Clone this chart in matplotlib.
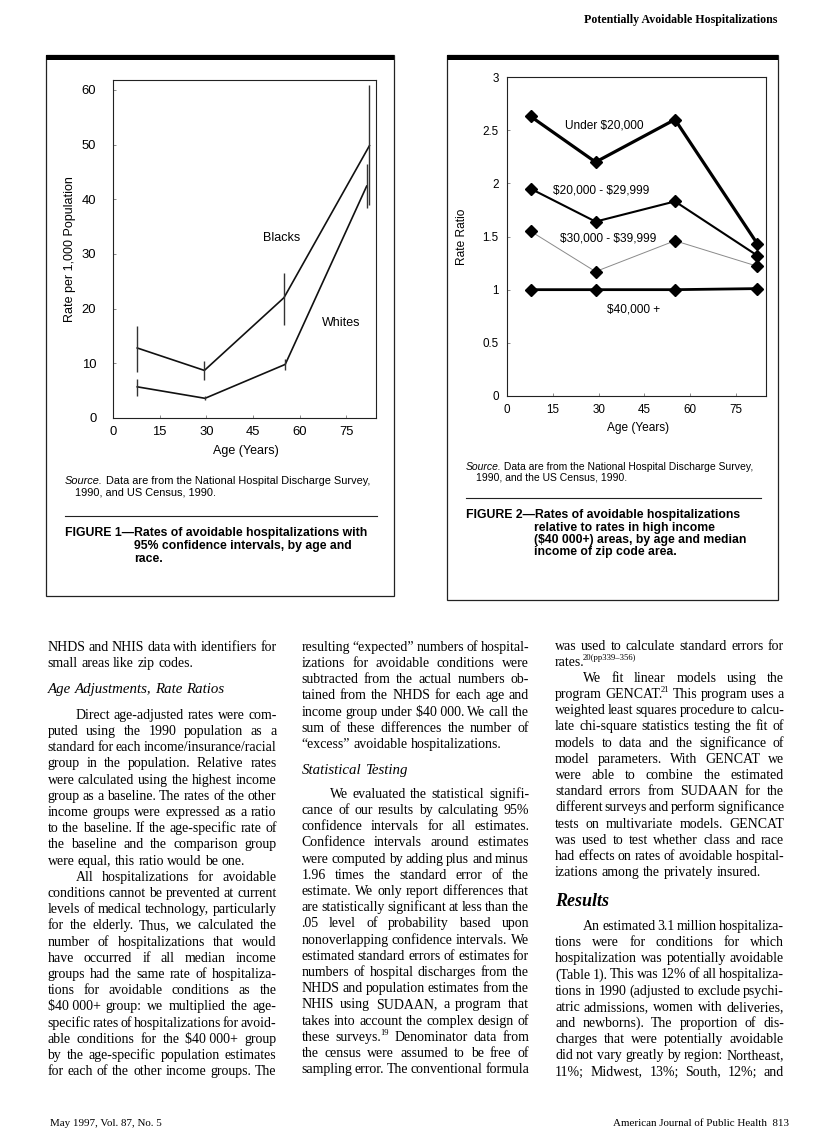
import matplotlib
matplotlib.use("Agg")
import matplotlib.pyplot as plt
from matplotlib.patches import Rectangle
from matplotlib.lines import Line2D

W, H = 816, 1141
SANS = 'Liberation Sans'
SERIF = 'Liberation Serif'

# ---- Figure 1 data: rates per 1,000 with 95% CI ----
ages_black = [7.8, 29.4, 55.0, 82.5]
rate_black = [12.8, 8.7, 22.0, 49.8]
ci_black_lo = [8.5, 6.9, 17.0, 39.0]
ci_black_hi = [16.9, 10.4, 26.6, 60.8]
ages_white = [7.8, 29.6, 55.4, 81.6]
rate_white = [5.7, 3.6, 9.8, 42.4]
ci_white_lo = [4.1, 3.3, 8.8, 38.4]
ci_white_hi = [7.2, 4.0, 10.7, 46.5]
fig1_yticks = [0, 10, 20, 30, 40, 50, 60]

# ---- Figure 2 data: rate ratios by income ----
ages_income = [7.7, 29.0, 55.0, 82.0]
under_20k = [2.63, 2.20, 2.60, 1.43]
inc_20_30k = [1.95, 1.64, 1.83, 1.32]
inc_30_40k = [1.55, 1.17, 1.46, 1.22]
over_40k = [1.00, 1.00, 1.00, 1.01]
fig2_yticks = [0, 0.5, 1, 1.5, 2, 2.5, 3]
fig2_yticklabels = ['0', '0.5', '1', '1.5', '2', '2.5', '3']
age_ticks = [0, 15, 30, 45, 60, 75]

# ---- body text (j = justified, l = last line, i = indented first line) ----
col1 = [
    (647, [("NHDS and NHIS data with identifiers for", 'j'),
           ("small areas like zip codes.", 'l')]),
    (689, [("Age Adjustments, Rate Ratios", 'h')]),
    (715, [("Direct age-adjusted rates were com-", 'ji'),
           ("puted using the 1990 population as a", 'j'),
           ("standard for each income/insurance/racial", 'j'),
           ("group in the population. Relative rates", 'j'),
           ("were calculated using the highest income", 'j'),
           ("group as a baseline. The rates of the other", 'j'),
           ("income groups were expressed as a ratio", 'j'),
           ("to the baseline. If the age-specific rate of", 'j'),
           ("the baseline and the comparison group", 'j'),
           ("were equal, this ratio would be one.", 'l'),
           ("All hospitalizations for avoidable", 'ji'),
           ("conditions cannot be prevented at current", 'j'),
           ("levels of medical technology, particularly", 'j'),
           ("for the elderly. Thus, we calculated the", 'j'),
           ("number of hospitalizations that would", 'j'),
           ("have occurred if all median income", 'j'),
           ("groups had the same rate of hospitaliza-", 'j'),
           ("tions for avoidable conditions as the", 'j'),
           ("$40\u00a0000+ group: we multiplied the age-", 'j'),
           ("specific rates of hospitalizations for avoid-", 'j'),
           ("able conditions for the $40\u00a0000+ group", 'j'),
           ("by the age-specific population estimates", 'j'),
           ("for each of the other income groups. The", 'j')]),
]
col2 = [
    (647, [("resulting \u201cexpected\u201d numbers of hospital-", 'j'),
           ("izations for avoidable conditions were", 'j'),
           ("subtracted from the actual numbers ob-", 'j'),
           ("tained from the NHDS for each age and", 'j'),
           ("income group under $40\u00a0000. We call the", 'j'),
           ("sum of these differences the number of", 'j'),
           ("\u201cexcess\u201d avoidable hospitalizations.", 'l')]),
    (770, [("Statistical Testing", 'h')]),
    (794, [("We evaluated the statistical signifi-", 'ji'),
           ("cance of our results by calculating 95%", 'j'),
           ("confidence intervals for all estimates.", 'j'),
           ("Confidence intervals around estimates", 'j'),
           ("were computed by adding plus and minus", 'j'),
           ("1.96 times the standard error of the", 'j'),
           ("estimate. We only report differences that", 'j'),
           ("are statistically significant at less than the", 'j'),
           (".05 level of probability based upon", 'j'),
           ("nonoverlapping confidence intervals. We", 'j'),
           ("estimated standard errors of estimates for", 'j'),
           ("numbers of hospital discharges from the", 'j'),
           ("NHDS and population estimates from the", 'j'),
           ("NHIS using SUDAAN, a program that", 'j'),
           ("takes into account the complex design of", 'j'),
           ("these surveys.^19 Denominator data from", 'j'),
           ("the census were assumed to be free of", 'j'),
           ("sampling error. The conventional formula", 'j')]),
]
col3 = [
    (646, [("was used to calculate standard errors for", 'j'),
           ("rates.^20(pp339\u2013356)", 'l')]),
    (678, [("We fit linear models using the", 'ji'),
           ("program GENCAT.^21 This program uses a", 'j'),
           ("weighted least squares procedure to calcu-", 'j'),
           ("late chi-square statistics testing the fit of", 'j'),
           ("models to data and the significance of", 'j'),
           ("model parameters. With GENCAT we", 'j'),
           ("were able to combine the estimated", 'j'),
           ("standard errors from SUDAAN for the", 'j'),
           ("different surveys and perform significance", 'j'),
           ("tests on multivariate models. GENCAT", 'j'),
           ("was used to test whether class and race", 'j'),
           ("had effects on rates of avoidable hospital-", 'j'),
           ("izations among the privately insured.", 'l')]),
    (901, [("Results", 'R')]),
    (926, [("An estimated 3.1 million hospitaliza-", 'ji'),
           ("tions were for conditions for which", 'j'),
           ("hospitalization was potentially avoidable", 'j'),
           ("(Table 1). This was 12% of all hospitaliza-", 'j'),
           ("tions in 1990 (adjusted to exclude psychi-", 'j'),
           ("atric admissions, women with deliveries,", 'j'),
           ("and newborns). The proportion of dis-", 'j'),
           ("charges that were potentially avoidable", 'j'),
           ("did not vary greatly by region: Northeast,", 'j'),
           ("11%; Midwest, 13%; South, 12%; and", 'j')]),
]

fig = plt.figure(figsize=(W / 100, H / 100), dpi=100)
renderer = fig.canvas.get_renderer()


def px(x, y):
    return x / W, 1 - y / H


def rect(l, t, r, b):
    return [l / W, 1 - b / H, (r - l) / W, (b - t) / H]


def width_of(s, **kw):
    t = fig.text(0, 0, s, parse_math=False, **kw)
    w = t.get_window_extent(renderer).width
    t.remove()
    return w


def hline(x0, x1, y, lw=0.8):
    fig.add_artist(Line2D([x0 / W, x1 / W], [1 - y / H] * 2, transform=fig.transFigure,
                          lw=lw, color='#222'))


def box(l, t, r, b):
    fig.add_artist(Rectangle((l / W, 1 - b / H), (r - l) / W, (b - t) / H, transform=fig.transFigure,
                             fill=False, lw=0.9, ec='#222'))
    fig.add_artist(Rectangle((l / W, 1 - (t + 5) / H), (r - l) / W, 5 / H, transform=fig.transFigure,
                             fc='black', ec='none'))


def runs(x, y, pieces, fs):
    yb = y + fs * 100 / 72 * 0.3
    for s, style in pieces:
        t = fig.text(*px(x, yb), s, fontsize=fs, family=SANS, style=style, va='baseline',
                     parse_math=False)
        x += t.get_window_extent(renderer).width


def style_axes(ax):
    for sp in ax.spines.values():
        sp.set_linewidth(0.8)
        sp.set_color('#222')
    ax.set_facecolor('none')


# ---- page boxes ----
box(46, 55, 394, 596)
box(447, 55, 778, 600)

# ---- Figure 1 ----
ax1 = fig.add_axes(rect(113, 80, 376, 418))
style_axes(ax1)
ax1.plot(ages_black, rate_black, color='#111', lw=1.2)
ax1.plot(ages_white, rate_white, color='#111', lw=1.2)
ax1.vlines(ages_black, ci_black_lo, ci_black_hi, color='#333', lw=1.0)
ax1.vlines(ages_white, ci_white_lo, ci_white_hi, color='#333', lw=1.0)
ax1.set_xlim(0, 84.6)
ax1.set_ylim(0, 61.8)
ax1.set_xticks(age_ticks)
ax1.set_yticks(fig1_yticks)
ax1.tick_params(axis='both', direction='in', length=2.5, width=0.6, color='#777', labelsize=9.4)
ax1.tick_params(axis='y', pad=12)
ax1.tick_params(axis='x', pad=6)
for lab in ax1.get_xticklabels() + ax1.get_yticklabels():
    lab.set_family(SANS)
ax1.text(54.3, 33.0, 'Blacks', fontsize=9, family=SANS, ha='center', va='center')
ax1.text(73.3, 17.3, 'Whites', fontsize=9, family=SANS, ha='center', va='center')
fig.text(*px(70, 249), 'Rate per 1,000 Population', rotation=90, fontsize=9, family=SANS,
         ha='center', va='center')
fig.text(*px(245.5, 451.5), 'Age (Years)', fontsize=9, family=SANS, ha='center', va='center')
runs(65, 481, [('Source.', 'italic'),
               (' Data are from the National Hospital Discharge Survey,', 'normal')], 7.9)
runs(75, 492.7, [('1990, and US Census, 1990.', 'normal')], 7.9)
hline(65, 377, 516)
cap1 = ["FIGURE 1\u2014Rates of avoidable hospitalizations with",
        "95% confidence intervals, by age and",
        "race."]
for i, (s, y) in enumerate(zip(cap1, [532.7, 545.7, 558.3])):
    fig.text(*px(65 if i == 0 else 134.3, y + 3.5), s, fontsize=8.8, family=SANS,
             weight='bold', va='baseline')

# ---- Figure 2 ----
ax2 = fig.add_axes(rect(507, 77, 766, 396))
style_axes(ax2)
ax2.plot(ages_income, under_20k, color='black', lw=2.3, marker='D', ms=6, zorder=4)
ax2.plot(ages_income, inc_20_30k, color='black', lw=1.5, marker='D', ms=6, zorder=4)
ax2.plot(ages_income, inc_30_40k, color='#8a8a8a', lw=0.7, marker='D', ms=6,
         mfc='black', mec='black', zorder=3)
ax2.plot(ages_income, over_40k, color='black', lw=2.0, marker='D', ms=6, zorder=4)
ax2.set_xlim(0, 84.8)
ax2.set_ylim(0, 3)
ax2.set_xticks(age_ticks)
ax2.set_yticks(fig2_yticks)
ax2.set_yticklabels(fig2_yticklabels)
ax2.tick_params(axis='both', direction='in', length=2.5, width=0.6, color='#777', labelsize=8.4)
ax2.tick_params(axis='y', pad=6)
ax2.tick_params(axis='x', pad=5.5)
for lab in ax2.get_xticklabels() + ax2.get_yticklabels():
    lab.set_family(SANS)
for s, xx, yy in [('Under $20,000', 31.9, 2.54), ('$20,000 - $29,999', 31.0, 1.93),
                  ('$30,000 - $39,999', 33.0, 1.483), ('$40,000 +', 41.4, 0.81)]:
    ax2.text(xx, yy, s, fontsize=8.6, family=SANS, ha='center', va='center', parse_math=False)
fig.text(*px(461.7, 237), 'Rate Ratio', rotation=90, fontsize=8.6, family=SANS,
         ha='center', va='center')
fig.text(*px(637.7, 427.7), 'Age (Years)', fontsize=8.6, family=SANS, ha='center', va='center')
runs(465.7, 466.7, [('Source.', 'italic'),
                    (' Data are from the National Hospital Discharge Survey,', 'normal')], 7.5)
runs(475.7, 476.9, [('1990, and the US Census, 1990.', 'normal')], 7.5)
hline(465.7, 760.7, 497.7)
cap2 = ["FIGURE 2\u2014Rates of avoidable hospitalizations",
        "relative to rates in high income",
        "($40\u00a0000+) areas, by age and median",
        "income of zip code area."]
for i, (s, y) in enumerate(zip(cap2, [514.3, 527.0, 539.3, 551.7])):
    fig.text(*px(465.7 if i == 0 else 534, y + 3.5), s, fontsize=8.8, family=SANS,
             weight='bold', va='baseline', parse_math=False)

# ---- header / footer ----
hs = 10 * 194 / width_of('Potentially Avoidable Hospitalizations', fontsize=10, family=SERIF,
                         weight='bold')
fig.text(*px(777, 23), 'Potentially Avoidable Hospitalizations', fontsize=hs, family=SERIF,
         weight='bold', ha='right', va='baseline')
fs_foot = 10 * 111 / width_of('May 1997, Vol. 87, No. 5', fontsize=10, family=SERIF)
fig.text(*px(50.5, 1126), 'May 1997, Vol. 87, No. 5', fontsize=fs_foot, family=SERIF,
         va='baseline')
fig.text(*px(789, 1126), 'American Journal of Public Health  813', fontsize=fs_foot,
         family=SERIF, ha='right', va='baseline')

# ---- body text ----
COLS = [(47.5, 276.5, col1), (301.5, 529, col2), (555, 784, col3)]
INDENT = 28
STEP = 16.2


def word_parts(word, fs, style='normal', weight='normal'):
    base, _, sup = word.partition('^')
    t = fig.text(0, 0, base, fontsize=fs, family=SERIF, style=style, weight=weight,
                 va='baseline', parse_math=False)
    w = t.get_window_extent(renderer).width
    parts = [(t, 0, 0)]
    if sup:
        w -= 1.5
        t2 = fig.text(0, 0, sup, fontsize=fs * 0.62, family=SERIF, va='baseline',
                      parse_math=False)
        parts.append((t2, w, fs * 100 / 72 * 0.42))
        w += t2.get_window_extent(renderer).width
    return parts, w


def set_line(line, x0, x1, y, fs, justify, style='normal', weight='normal'):
    words = line.split(' ')
    built = [word_parts(wd, fs, style, weight) for wd in words]
    total = sum(b[1] for b in built)
    space = fs * 100 / 72 * 0.25
    if justify and len(words) > 1:
        space = (x1 - x0 - total) / (len(words) - 1)
    x = x0
    yb = y + fs * 100 / 72 * 0.27
    for parts, w in built:
        for t, dx, dy in parts:
            t.set_position(px(x + dx, yb - dy))
        x += w + space


# body size: fit the tightest justified line, allowing spaces to shrink
ratio = 10.0
for x0, x1, col in COLS:
    for y0, lines in col:
        for s, kind in lines:
            if kind.startswith('j'):
                avail = x1 - x0 - (INDENT if 'i' in kind else 0)
                nat = width_of(s.replace('^', ''), fontsize=10, family=SERIF)
                nsp = s.count(' ')
                need = nat - nsp * 0.5 * 0.25 * 10 * 100 / 72
                ratio = min(ratio, 10 * avail / need)
fs_body = min(ratio, 10.0)
fs_head = 10 * 176 / width_of('Age Adjustments, Rate Ratios', fontsize=10, family=SERIF,
                              style='italic')
fs_res = 10 * 54 / width_of('Results', fontsize=10, family=SERIF, style='italic', weight='bold')

for x0, x1, col in COLS:
    for y0, lines in col:
        for k, (s, kind) in enumerate(lines):
            y = y0 + k * STEP
            if kind == 'h':
                set_line(s, x0, x1, y, fs_head, False, style='italic')
            elif kind == 'R':
                set_line(s, x0, x1, y, fs_res, False, style='italic', weight='bold')
            else:
                xs = x0 + (INDENT if 'i' in kind else 0)
                set_line(s, xs, x1, y, fs_body, kind.startswith('j'))

fig.savefig('out.png', dpi=100)
